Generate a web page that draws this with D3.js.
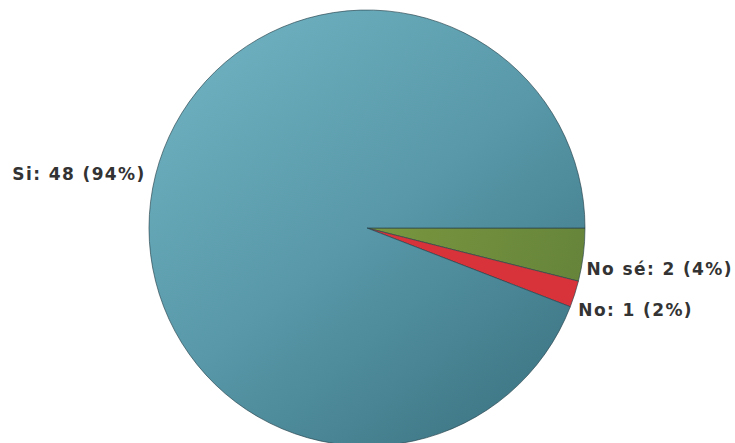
<!DOCTYPE html>
<html><head><meta charset="utf-8">
<script src="https://cdn.jsdelivr.net/npm/d3@7/dist/d3.min.js"></script>
<style>
html,body{margin:0;padding:0;background:#fff;}
svg{display:block;}
text{font-family:"DejaVu Sans",Verdana,sans-serif;font-weight:bold;fill:#333;}
</style></head>
<body>
<svg id="chart" width="735" height="443"></svg>
<script>
const categories = ["No sé", "No", "Si"];
const values = [2, 1, 48];
const colors = ["url(#greenGrad)", "#d8333a", "url(#blueGrad)"];

const W = 735, H = 443;
const cx = 367, cy = 228, R = 218;
const svg = d3.select("#chart");
const defs = svg.append("defs");
const g1 = defs.append("linearGradient").attr("id","blueGrad")
  .attr("gradientUnits","userSpaceOnUse")
  .attr("x1", -R*0.75).attr("y1", -R*0.95)
  .attr("x2", R*0.75).attr("y2", R*0.95);
g1.append("stop").attr("offset","0%").attr("stop-color","#70b2c1");
g1.append("stop").attr("offset","50%").attr("stop-color","#5898a8");
g1.append("stop").attr("offset","100%").attr("stop-color","#3c7483");
const g2 = defs.append("linearGradient").attr("id","greenGrad")
  .attr("gradientUnits","userSpaceOnUse")
  .attr("x1", 0).attr("y1", 0).attr("x2", R).attr("y2", R*0.3);
g2.append("stop").attr("offset","0%").attr("stop-color","#79963f");
g2.append("stop").attr("offset","100%").attr("stop-color","#66843a");

const total = d3.sum(values);
const data = categories.map((c,i)=>({cat:c, value:values[i], color:colors[i]}));
const pie = d3.pie().value(d=>d.value).sort(null)
  .startAngle(Math.PI/2).endAngle(Math.PI/2 + 2*Math.PI);
const arcs = pie(data);
const arc = d3.arc().innerRadius(0).outerRadius(R);

const g = svg.append("g").attr("transform", `translate(${cx},${cy})`);
g.selectAll("path").data(arcs).join("path")
  .attr("d", arc)
  .attr("fill", d=>d.data.color)
  .attr("stroke", "#26414a")
  .attr("stroke-opacity", 0.8)
  .attr("stroke-width", 0.8);

const labelFor = d => `${d.data.cat}: ${d.data.value} (${Math.round(d.data.value/total*100)}%)`;
function pt(a, r){ return [Math.sin(a)*r, -Math.cos(a)*r]; }
const labelPlace = [
  d => { const p = pt(d.endAngle, R); return {x:p[0]+8, y:p[1]-6, anchor:"start"}; },
  d => { const p = pt(d.endAngle, R); return {x:p[0]+8, y:p[1]+9, anchor:"start"}; },
  d => { const p = pt((d.startAngle+d.endAngle)/2, R); return {x:p[0]-7, y:p[1]-8, anchor:"end"}; }
];
g.selectAll("text.lbl").data(arcs).join("text")
  .attr("class","lbl")
  .each(function(d,i){
    const p = labelPlace[i](d);
    d3.select(this).attr("x", p.x).attr("y", p.y).attr("text-anchor", p.anchor);
  })
  .style("font-size","17px")
  .style("letter-spacing","1.4px")
  .text(labelFor);
</script>
</body></html>
